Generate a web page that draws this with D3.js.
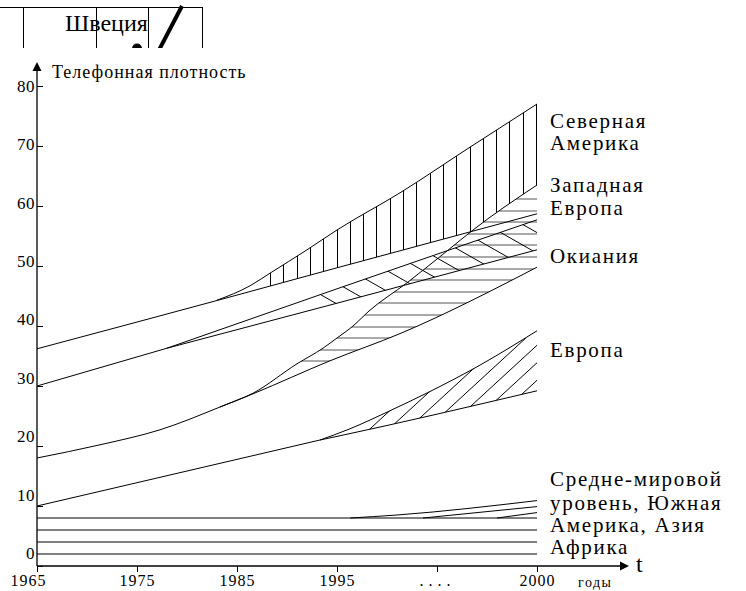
<!DOCTYPE html>
<html>
<head>
<meta charset="utf-8">
<script src="https://cdn.jsdelivr.net/npm/d3@7"></script>
<style>
body { margin: 0; background: #fff; }
svg { display: block; }
</style>
</head>
<body>
<div class="chart-area"></div>
<script>
// values: [year, telephones per 100 people]
let northAmericaLower = [[1965, 36.2], [1984, 44.7], [1995, 49.7], [2000, 58.7]];
let northAmericaUpper = [[1983, 44.3], [1986.3, 46.7], [1988.3, 48.8], [1992, 52.7], [1995, 56.0], [1996.6, 62.3], [1998.3, 69.7], [2000, 77.0]];

let westEuropeUpper = [[1965, 18.0], [1971.3, 20.2], [1977.3, 22.7], [1983.3, 26.5], [1986.6, 28.8], [1991, 33.7], [1993.6, 36.3], [1995, 38.0], [1995.4, 40.0], [1995.8, 42.5], [1996.75, 47.2], [1997.75, 52.5], [1998.4, 56.0], [2000, 63.5]];
let westEuropeLower = [[1983.3, 26.5], [1986.6, 28.7], [1994.3, 34.2], [1996.6, 38.8], [2000, 49.8]];

let oceaniaBase = [[1965, 30.0], [1978, 36.3]];
let oceaniaUpper = [[1978, 36.3], [1995, 46.2], [2000, 57.7]];
let oceaniaLower = [[1978, 36.3], [1995, 43.8], [2000, 52.7]];

let europeBase = [[1965, 10.0], [1993.3, 21.0]];
let europeUpper = [[1993.3, 21.0], [1995.3, 22.8], [1996.3, 25.8], [1997.3, 29.0], [1998.5, 33.2], [2000, 39.2]];
let europeLower = [[1993.3, 21.0], [1995, 21.6], [2000, 29.2]];

let levelValues = [8, 6, 4, 2];
let worldAverage = [[1995.33, 8], [1996.5, 8.5], [2000, 10.9]];
let southAmerica = [[1997.15, 8], [2000, 9.9]];
let asia = [[1999, 8], [2000, 8.9]];

let yTicks = [0, 10, 20, 30, 40, 50, 60, 70, 80];
let xTicks = [1965, 1975, 1985, 1995, 1997.5, 2000];
let xTickLabels = ["1965", "1975", "1985", "1995", "....", "2000"];

let rightLabels = ["Северная", "Америка", "Западная", "Европа", "Окиания", "Европа",
    "Средне-мировой", "уровень, Южная", "Америка, Азия", "Африка"];

// layout
let labelBaselines = [128, 150, 192, 215, 263, 357, 486, 510, 532, 554];
let serif = "'Liberation Serif'";

let svg = d3.select(".chart-area").append("svg")
    .attr("width", 746)
    .attr("height", 591);

// years 1965..1995 evenly, then the "...." gap up to 2000
let x = d3.scaleLinear().domain([1965, 1995, 2000]).range([37, 337, 537]);
let y = d3.scaleLinear().domain([0, 80]).range([566, 86]);

let line = d3.line()
    .x(d => x(d[0]))
    .y(d => y(d[1]))
    .curve(d3.curveMonotoneX);

function bandPath(upper, lower) {
    let a = line(upper);
    let b = line(lower.slice().reverse());
    return a + "L" + b.slice(1) + "Z";
}

function yAt(series, px) {
    let pts = series.map(d => [x(d[0]), y(d[1])]);
    for (let i = 1; i < pts.length; i++) {
        if (px <= pts[i][0]) {
            let t = (px - pts[i - 1][0]) / (pts[i][0] - pts[i - 1][0]);
            return pts[i - 1][1] + t * (pts[i][1] - pts[i - 1][1]);
        }
    }
    return pts[pts.length - 1][1];
}

let defs = svg.append("defs");

// ---- piece of the previous figure, cut at the top
defs.append("clipPath").attr("id", "clip-top")
    .append("rect").attr("x", 0).attr("y", 0).attr("width", 746).attr("height", 48);
let topPiece = svg.append("g").attr("clip-path", "url(#clip-top)");
topPiece.append("line").attr("x1", 0).attr("x2", 203).attr("y1", 7.5).attr("y2", 7.5)
    .attr("stroke", "black");
[23.5, 96.5, 148.5, 202.5].forEach(function (vx) {
    topPiece.append("line").attr("x1", vx).attr("x2", vx).attr("y1", 7.5).attr("y2", 50)
        .attr("stroke", "black");
});
topPiece.append("text").attr("x", 65).attr("y", 31).attr("font-size", 24).text("Швеция");
topPiece.append("line").attr("x1", 158).attr("y1", 52).attr("x2", 182).attr("y2", 6)
    .attr("stroke", "black").attr("stroke-width", 4);
topPiece.append("circle").attr("cx", 137).attr("cy", 48.5).attr("r", 5).attr("fill", "black");

// ---- clip regions for the hatching
defs.append("clipPath").attr("id", "clip-na").append("path")
    .attr("d", bandPath(northAmericaUpper, northAmericaLower));
defs.append("clipPath").attr("id", "clip-above-we").append("path")
    .attr("d", line(westEuropeUpper) + "L" + x(2000) + ",0L" + x(1965) + ",0Z");
defs.append("clipPath").attr("id", "clip-we").append("path")
    .attr("d", bandPath(westEuropeUpper, westEuropeLower));
defs.append("clipPath").attr("id", "clip-oc").append("path")
    .attr("d", bandPath(oceaniaUpper, oceaniaLower));
defs.append("clipPath").attr("id", "clip-eu").append("path")
    .attr("d", bandPath(europeUpper, europeLower));

// North America: vertical hatch
let naHatch = svg.append("g").attr("clip-path", "url(#clip-na)")
    .append("g").attr("clip-path", "url(#clip-above-we)");
d3.range(0, 21).forEach(function (i) {
    let hx = Math.round(270 + i * 13.3) + 0.5;
    naHatch.append("line").attr("x1", hx).attr("x2", hx).attr("y1", 80).attr("y2", 330)
        .attr("stroke", "black").attr("stroke-width", 1);
});

// Western Europe: horizontal hatch
let weHatch = svg.append("g").attr("clip-path", "url(#clip-we)");
d3.range(0, 15).forEach(function (k) {
    let hy = Math.round(199 + k * 11.6);
    weHatch.append("line").attr("x1", 230).attr("x2", 540).attr("y1", hy).attr("y2", hy)
        .attr("stroke", "#555").attr("stroke-width", 1);
});

// Oceania: "\\" hatch
let ocHatch = svg.append("g").attr("clip-path", "url(#clip-oc)");
d3.range(0, 10).forEach(function (k) {
    let x0 = 320.5 + k * 22.5;
    let y0 = yAt(oceaniaUpper, x0);
    ocHatch.append("line")
        .attr("x1", x0 - 20).attr("y1", y0 - 20 * 0.57)
        .attr("x2", x0 + 80).attr("y2", y0 + 80 * 0.57)
        .attr("stroke", "black").attr("stroke-width", 1);
});

// Europe: "//" hatch
let euHatch = svg.append("g").attr("clip-path", "url(#clip-eu)");
d3.range(0, 7).forEach(function (k) {
    let x0 = 370 + k * 25.3;
    let y0 = yAt(europeLower, x0);
    euHatch.append("line")
        .attr("x1", x0 - 15).attr("y1", y0 + 15 * 0.92)
        .attr("x2", x0 + 80).attr("y2", y0 - 80 * 0.92)
        .attr("stroke", "black").attr("stroke-width", 1);
});

// ---- curves
let curves = [northAmericaLower, northAmericaUpper, westEuropeUpper, westEuropeLower,
    oceaniaBase, oceaniaUpper, oceaniaLower, europeBase, europeUpper, europeLower,
    worldAverage, southAmerica, asia];
svg.append("g").selectAll("path").data(curves).enter().append("path")
    .attr("d", line)
    .attr("fill", "none")
    .attr("stroke", "black")
    .attr("stroke-width", 1);

svg.append("g").selectAll("line").data(levelValues).enter().append("line")
    .attr("x1", x(1965)).attr("x2", x(2000))
    .attr("y1", d => y(d)).attr("y2", d => y(d))
    .attr("stroke", "black").attr("stroke-width", 1);

// ---- axes
let yAxis = svg.append("g").attr("transform", "translate(" + x(1965) + ",0)")
    .call(d3.axisLeft(y).tickValues(yTicks).tickSize(-6).tickPadding(2));
yAxis.select(".domain").remove();
yAxis.selectAll(".tick line").attr("stroke", "black");
yAxis.selectAll(".tick text")
    .attr("font-size", 17)
    .attr("letter-spacing", 0.5)
    .attr("fill", "black")
    .attr("dy", d => (0.32 * 17 - (80 - d) / 80 * 13) + "px");

let xAxis = svg.append("g").attr("transform", "translate(0," + y(0) + ")")
    .call(d3.axisBottom(x).tickValues(xTicks).tickSize(6).tickFormat((d, i) => xTickLabels[i]));
xAxis.select(".domain").remove();
xAxis.selectAll(".tick line").attr("stroke", "black");
xAxis.selectAll(".tick text")
    .attr("font-size", 16)
    .attr("letter-spacing", (d, i) => xTickLabels[i] === "...." ? 5 : 1)
    .attr("fill", "black")
    .attr("y", 20).attr("dy", 0)
    .attr("dx", (d, i) => i === 0 ? -9 : 0);

svg.append("line").attr("x1", x(1965)).attr("x2", x(1965)).attr("y1", y(0)).attr("y2", 70)
    .attr("stroke", "black").attr("stroke-width", 1.3);
svg.append("path").attr("d", "M37,62L32.5,71L41.5,71Z").attr("fill", "black");
svg.append("line").attr("x1", x(1965)).attr("x2", 621).attr("y1", y(0)).attr("y2", y(0))
    .attr("stroke", "black").attr("stroke-width", 1.3);
svg.append("path").attr("d", "M629,566L620,561.5L620,570.5Z").attr("fill", "black");

svg.append("text").attr("x", 52).attr("y", 78).attr("font-size", 18).attr("letter-spacing", 1)
    .text("Телефонная плотность");
svg.append("text").attr("x", 636).attr("y", 572).attr("font-size", 24).text("t");
svg.append("text").attr("x", 578).attr("y", 587).attr("font-size", 14).attr("letter-spacing", 1.5)
    .text("годы");

svg.append("g").selectAll("text").data(rightLabels).enter().append("text")
    .attr("x", 550)
    .attr("y", (d, i) => labelBaselines[i])
    .attr("font-size", 21)
    .attr("letter-spacing", 1.7)
    .text(d => d);

svg.selectAll("text").style("font-family", serif).style("fill", "black");
</script>
</body>
</html>
